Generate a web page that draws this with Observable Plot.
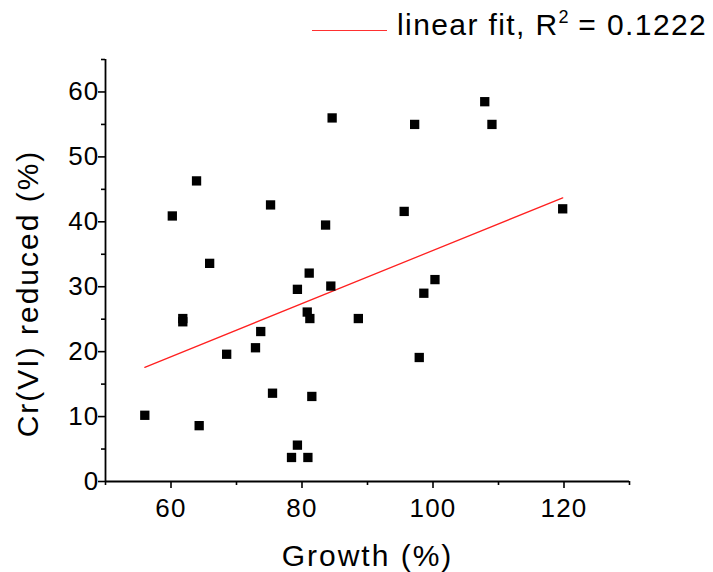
<!DOCTYPE html>
<html><head><meta charset="utf-8">
<script src="https://cdn.jsdelivr.net/npm/d3@7"></script>
<script src="https://cdn.jsdelivr.net/npm/@observablehq/plot@0.6"></script>
<style>
body{margin:0;background:#fff;font-family:"Liberation Sans",Arial,sans-serif;}
#wrap{position:relative;width:713px;height:572px;}
#legline{position:absolute;z-index:2;left:312px;top:30px;width:75px;height:0;border-top:1.3px solid #ff3030;}
#legtext{position:absolute;z-index:2;left:397px;top:8px;font-size:30px;line-height:1;letter-spacing:1.4px;white-space:nowrap;color:#000;}
#legtext .sup{font-size:18px;vertical-align:12px;letter-spacing:0;}
#wrap svg g[aria-label="x-axis tick label"] text,
#wrap svg g[aria-label="y-axis tick label"] text{letter-spacing:1.2px;}
#wrap svg g[aria-label="text"] text{letter-spacing:2px;}
</style></head><body>
<div id="wrap">
<div id="legline"></div>
<div id="legtext">linear fit, R<span class="sup">2</span> = 0.1222</div>
</div>
<script>
const growth = [84.6, 63.9, 75.2, 60.2, 83.6, 65.9, 81.1, 107.9, 97.2, 109.0, 95.6, 119.8, 79.3, 84.4, 61.8, 61.8,
  80.8, 81.2, 88.6, 73.7, 72.9, 68.5, 75.5, 81.5, 56.0, 64.3, 79.3, 78.4, 80.9, 100.3, 98.6, 97.9];
const crReduced = [56.0, 46.3, 42.6, 40.9, 39.5, 33.6, 32.1, 58.5, 55.0, 55.0, 41.6, 42.0, 29.6, 30.1, 25.1, 24.6,
  26.1, 25.1, 25.1, 23.1, 20.6, 19.6, 13.6, 13.1, 10.2, 8.6, 5.6, 3.7, 3.7, 31.1, 29.0, 19.1];
// linear fit as reported in the figure
const fitIntercept = -5.31;
const fitSlope = 0.409;
const xDomain = [50, 130];
const yDomain = [0, 65];
const xMajorTicks = [60, 80, 100, 120];
const xMinorTicks = [50, 70, 90, 110, 130];
const yMajorTicks = [0, 10, 20, 30, 40, 50, 60];
const yMinorTicks = [5, 15, 25, 35, 45, 55, 65];
const xLabel = "Growth (%)";
const yLabel = "Cr(VI) reduced (%)";

const data = growth.map((g, i) => ({growth: g, cr: crReduced[i]}));
const xExtent = d3.extent(growth);
const fit = xExtent.map(x => ({growth: x, cr: fitIntercept + fitSlope * x}));
const font = '"Liberation Sans", Arial, sans-serif';

const chart = Plot.plot({
  width: 713, height: 572,
  marginLeft: 105, marginRight: 84, marginTop: 59, marginBottom: 91,
  style: {fontFamily: font, fontSize: "26px", color: "#000", background: "transparent", overflow: "visible"},
  x: {domain: xDomain},
  y: {domain: yDomain},
  marks: [
    Plot.axisX({ticks: xMajorTicks, tickSize: 7, tickPadding: 10, label: null, strokeWidth: 1.6, fontSize: 26}),
    Plot.axisX({ticks: xMinorTicks, tickSize: 4, tickFormat: () => "", label: null, strokeWidth: 1.6}),
    Plot.axisY({ticks: yMajorTicks, tickSize: 7, tickPadding: -1, label: null, strokeWidth: 1.6, fontSize: 26}),
    Plot.axisY({ticks: yMinorTicks, tickSize: 4, tickFormat: () => "", label: null, strokeWidth: 1.6}),
    Plot.ruleY([yDomain[0]], {stroke: "#000", strokeWidth: 1.8}),
    Plot.ruleX([xDomain[0]], {stroke: "#000", strokeWidth: 1.8}),
    Plot.line(fit, {x: "growth", y: "cr", stroke: "#ff2020", strokeWidth: 1.3}),
    Plot.dot(data, {x: "growth", y: "cr", symbol: "square", r: 5.25, fill: "#000", stroke: null}),
    Plot.text([xLabel], {frameAnchor: "bottom", lineAnchor: "middle", textAnchor: "middle", dy: 75, fontSize: 30, fill: "#000"}),
    Plot.text([yLabel], {frameAnchor: "left", lineAnchor: "middle", textAnchor: "middle", rotate: -90, dx: -77, dy: 23, fontSize: 30, fill: "#000"})
  ]
});
chart.style.position = "absolute";
chart.style.left = "0";
chart.style.top = "0";
chart.style.zIndex = "1";
document.getElementById("wrap").appendChild(chart);
</script>
</body></html>
